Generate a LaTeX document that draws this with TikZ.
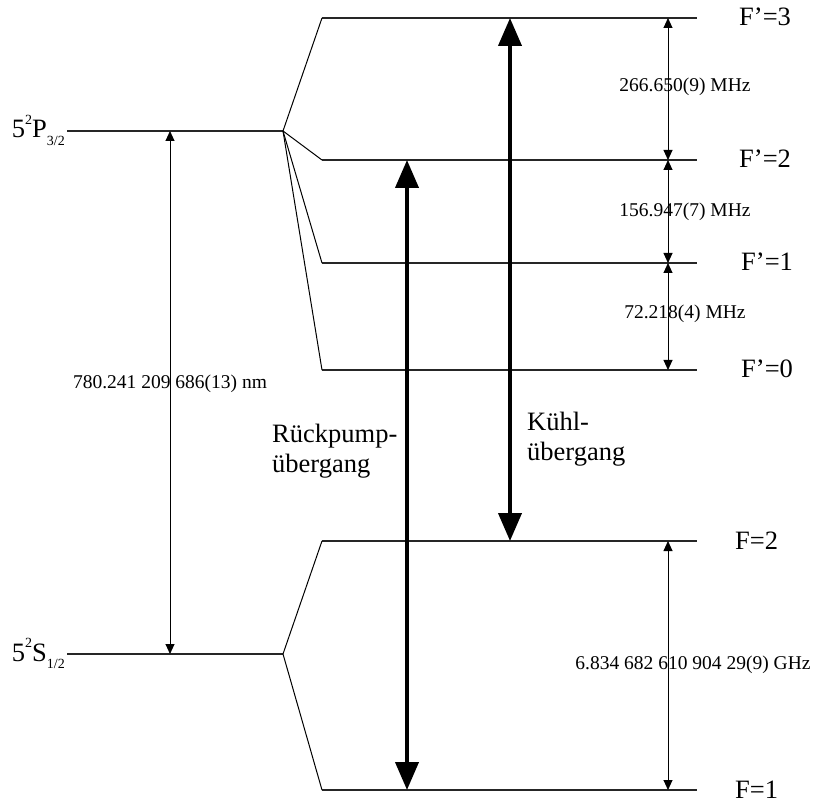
\documentclass[tikz,border=0pt]{standalone}
\usepackage{fontspec}
\setmainfont{Liberation Serif}
\usetikzlibrary{arrows.meta}
\newcommand{\smallsz}{\fontsize{14}{14}\selectfont}
\begin{document}
\begin{tikzpicture}[x=1pt,y=-1pt,
  level/.style={line width=1.1pt, draw=black!85},
  fan/.style={line width=1pt, draw=black},
  thinarrow/.style={line width=0.9pt, {Triangle[length=10pt,width=9pt]}-{Triangle[length=10pt,width=9pt]}},
  thickarrow/.style={line width=4pt, {Triangle[length=28pt,width=23pt]}-{Triangle[length=28pt,width=23pt]}},
  big/.style={font=\fontsize{26.5}{30}\selectfont, inner sep=0pt},
  small/.style={font=\fontsize{19.5}{22}\selectfont, inner sep=0pt}]
\useasboundingbox (0,0) rectangle (815,805);
% fine-structure levels
\coordinate (P0) at (67,131);  \coordinate (P1) at (283,131);
\coordinate (S0) at (67,654);  \coordinate (S1) at (283,654);
\draw[level] (P0) -- (P1);
\draw[level] (S0) -- (S1);
% hyperfine levels
\foreach \n/\y in {Fp3/18, Fp2/160, Fp1/263, Fp0/370, F2/541, F1/790}{
  \coordinate (\n a) at (322,\y);
  \coordinate (\n b) at (697,\y);
  \draw[level] (\n a) -- (\n b);
}
% fans
\draw[fan] (P1) -- (Fp3a);
\draw[fan] (P1) -- (Fp2a);
\draw[fan] (P1) -- (Fp1a);
\draw[fan] (P1) -- (Fp0a);
\draw[fan] (S1) -- (F2a);
\draw[fan] (S1) -- (F1a);
% state labels
\node[big, anchor=base east] (lP) at (65,138) {5\raisebox{0.5em}{\smallsz 2}P\raisebox{-0.3em}{\smallsz 3/2}};
\node[big, anchor=base east] (lS) at (65,661) {5\raisebox{0.5em}{\smallsz 2}S\raisebox{-0.3em}{\smallsz 1/2}};
\node[big, anchor=base west] (lFp3) at (739,26) {F’=3};
\node[big, anchor=base west] (lFp2) at (739,168) {F’=2};
\node[big, anchor=base west] (lFp1) at (741,271) {F’=1};
\node[big, anchor=base west] (lFp0) at (741,378) {F’=0};
\node[big, anchor=base west] (lF2) at (735,549) {F=2};
\node[big, anchor=base west] (lF1) at (735,798) {F=1};
% arrows: optical transition
\coordinate (a780t) at (170,131);
\coordinate (a780b) at (170,654);
\draw[thinarrow] (a780t) -- (a780b);
\node[small] (l780) at (170,384) {780.241 209 686(13) nm};
% hyperfine splittings
\coordinate (h3) at (668,18);
\coordinate (h2) at (668,160);
\coordinate (h1) at (668,263);
\coordinate (h0) at (668,370);
\coordinate (g2) at (668,541);
\coordinate (g1) at (668,790);
\draw[thinarrow] (h3) -- (h2);
\draw[thinarrow] (h2) -- (h1);
\draw[thinarrow] (h1) -- (h0);
\draw[thinarrow] (g2) -- (g1);
\node[small] (l32) at (685,87) {266.650(9) MHz};
\node[small] (l21) at (685,212) {156.947(7) MHz};
\node[small] (l10) at (685,314) {72.218(4) MHz};
\node[small] (lg) at (693,665) {6.834 682 610 904 29(9) GHz};
% laser transitions
\coordinate (rt) at (407,160);
\coordinate (rb) at (407,790);
\coordinate (kt) at (510,18);
\coordinate (kb) at (510,541);
\draw[thickarrow] (rt) -- (rb);
\draw[thickarrow] (kt) -- (kb);
\node[big, anchor=north west, align=left] (lr) at (272,424) {Rückpump-\\übergang};
\node[big, anchor=north west, align=left] (lk) at (527,412) {Kühl-\\übergang};
\end{tikzpicture}
\end{document}
